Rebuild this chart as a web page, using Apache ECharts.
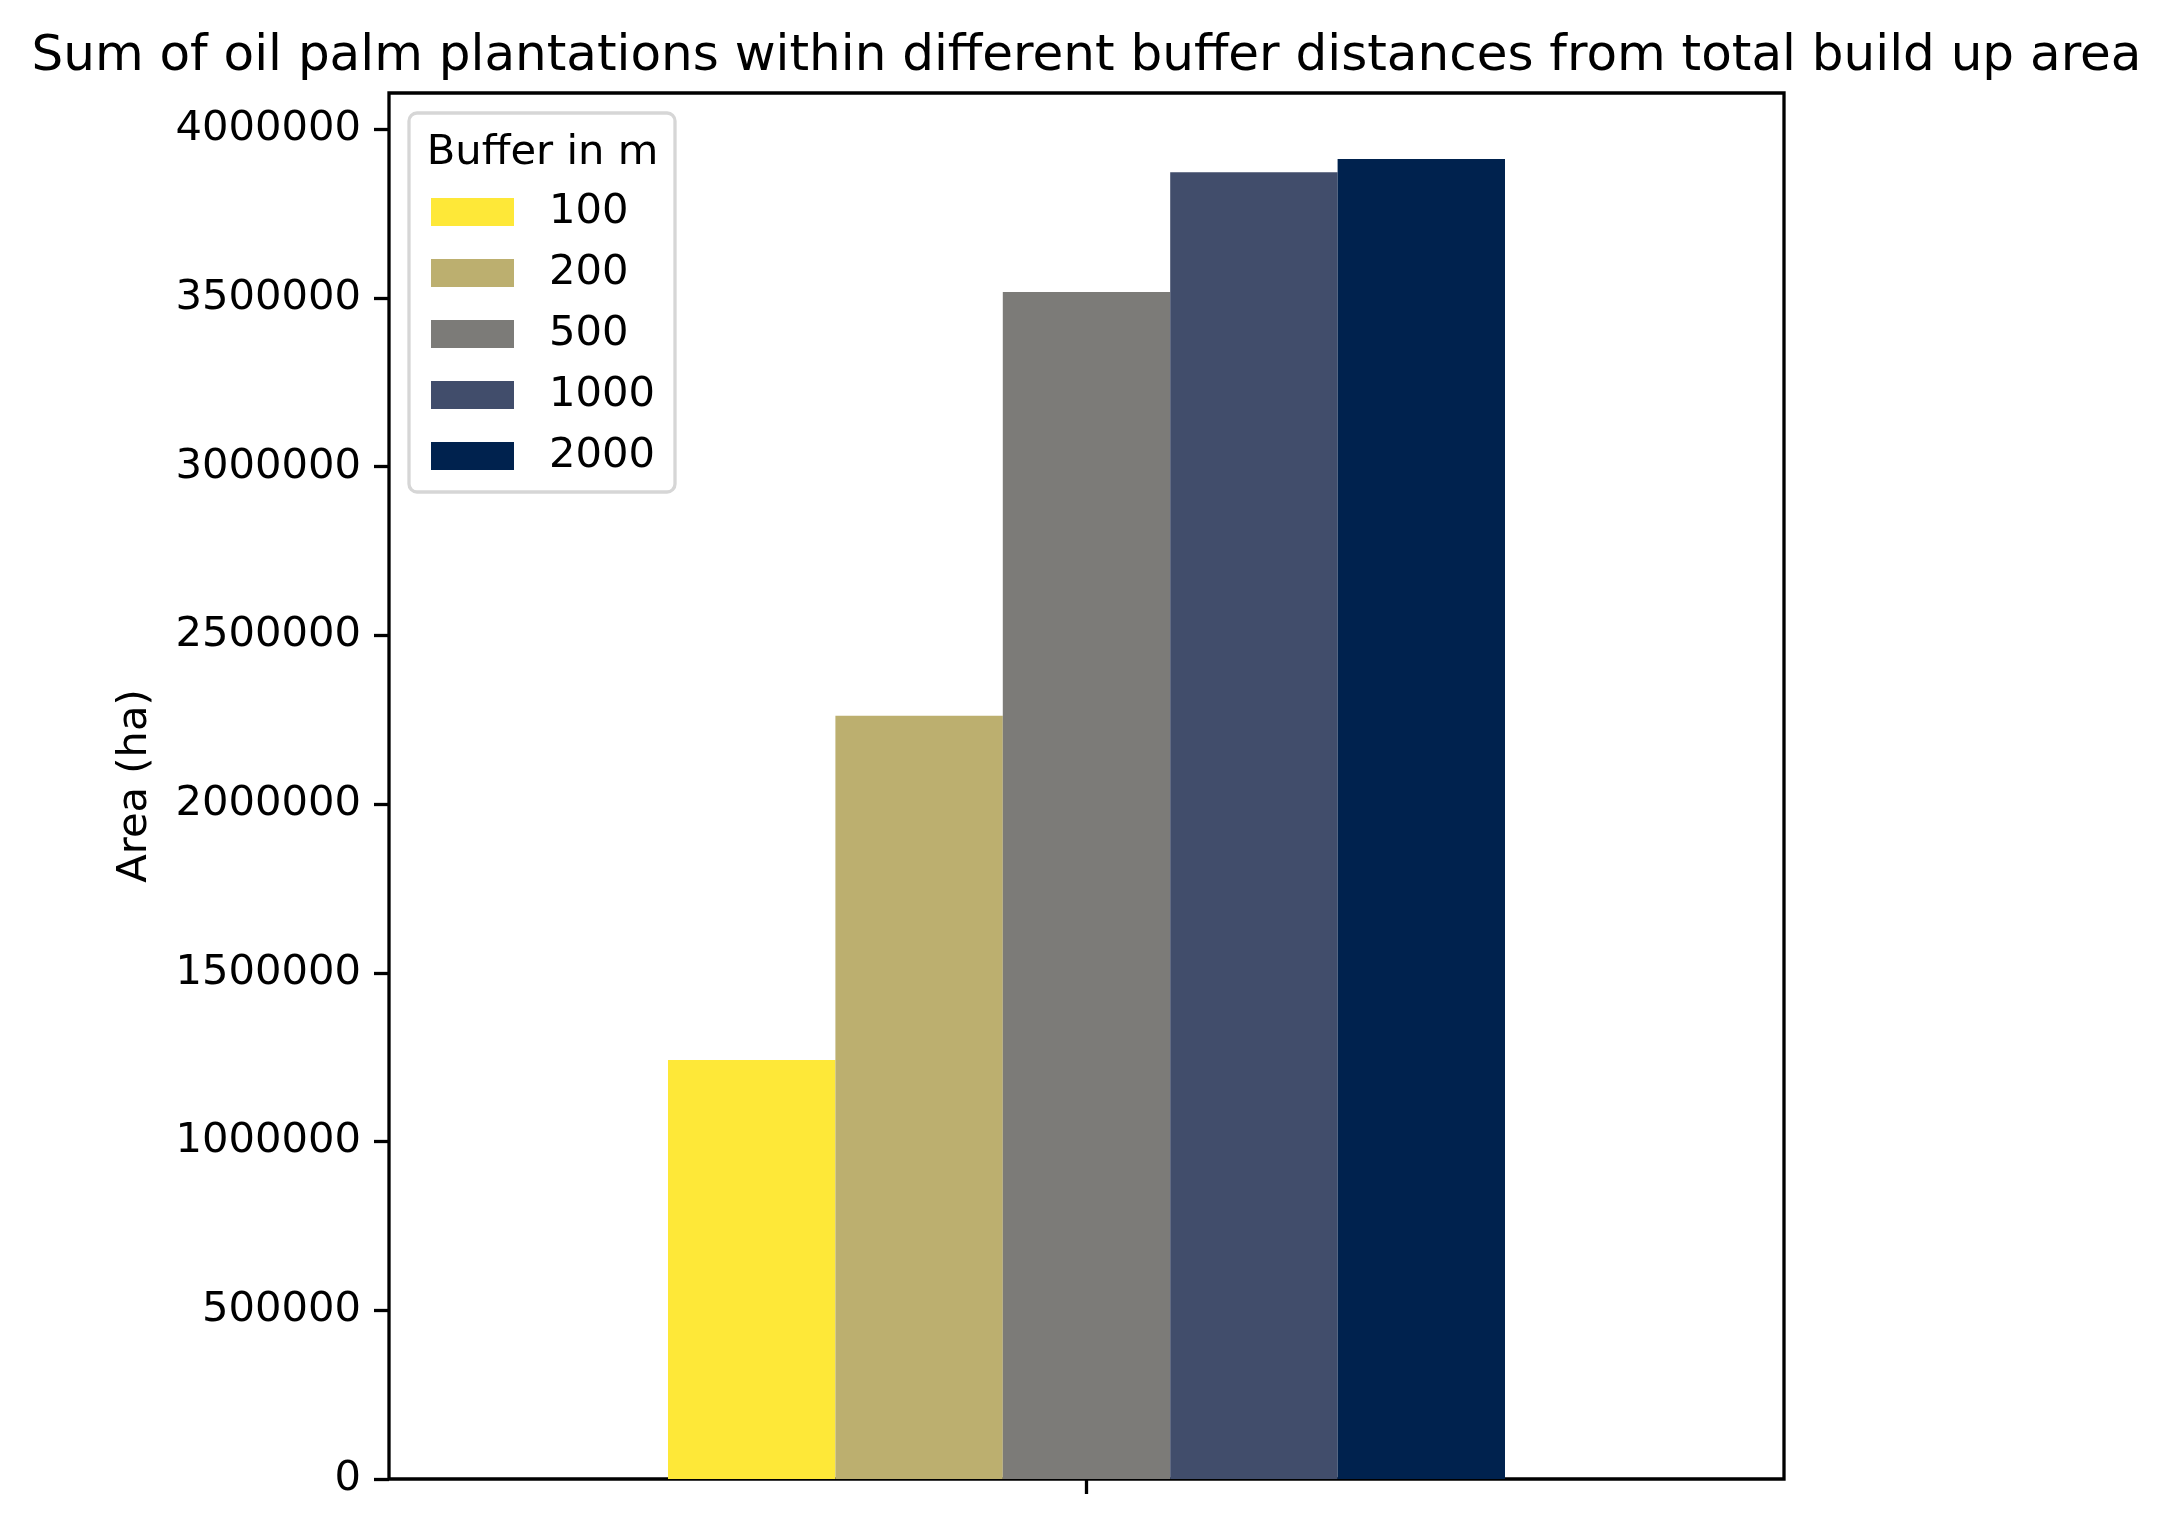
<!DOCTYPE html>
<html>
<head>
<meta charset="utf-8">
<title>Oil palm buffer areas</title>
<script src="https://cdn.jsdelivr.net/npm/echarts@6/dist/echarts.min.js"></script>
<style>
  html, body { margin: 0; padding: 0; background: #fff; }
</style>
</head>
<body>
	<div id="main" style="width: 2173px; height: 1533px;"></div>
	<script type="text/javascript">
		// data
		var categories = [''];
		var buffers = ['100', '200', '500', '1000', '2000'];
		var areas = [1242000, 2262000, 3518000, 3873000, 3912000];
		var colors = ['#fee838', '#bcaf6f', '#7c7b78', '#414d6b', '#00224e'];
		var yTicks = [0, 500000, 1000000, 1500000, 2000000, 2500000, 3000000, 3500000, 4000000];
		var yMax = 4107600;

		var font = 'DejaVu Sans';
		var myChart = echarts.init(document.getElementById('main'));

		var series = [];
		for (var i = 0; i < buffers.length; i++) {
			series.push({
				name: buffers[i],
				type: 'bar',
				data: [areas[i]],
				barGap: '0%',
				barCategoryGap: '40%',
				itemStyle: { color: colors[i] },
				emphasis: { disabled: true }
			});
		}

		var option = {
			animation: false,
			backgroundColor: '#fff',
			textStyle: { fontFamily: font },
			title: {
				text: 'Sum of oil palm plantations within different buffer distances from total build up area',
				left: 'center',
				top: 27,
				textStyle: { fontFamily: font, fontSize: 50, fontWeight: 'normal', color: '#000' }
			},
			grid: {
				left: 389, right: 389, top: 93, bottom: 54,
				show: true, borderColor: '#000', borderWidth: 3.3,
				backgroundColor: 'transparent'
			},
			legend: {
				orient: 'vertical',
				left: 409, top: 113,
				data: buffers,
				icon: 'rect',
				itemWidth: 83, itemHeight: 28,
				itemGap: 19,
				padding: [78, 20, 15, 22],
				borderColor: '#d6d6d6', borderWidth: 3.3, borderRadius: 8,
				backgroundColor: 'rgba(255,255,255,0.8)',
				textStyle: { fontFamily: font, fontSize: 41.67, color: '#000', padding: [0, 0, 0, 30] }
			},
			xAxis: {
				type: 'category',
				data: categories,
				axisLine: { show: false },
				axisTick: { show: true, alignWithLabel: true, length: 15, lineStyle: { color: '#000', width: 3.3 } },
				axisLabel: { show: false },
				splitLine: { show: false }
			},
			yAxis: {
				type: 'value',
				min: 0, max: yMax,
				name: 'Area (ha)',
				nameLocation: 'middle',
				nameGap: 233,
				nameTextStyle: { fontFamily: font, fontSize: 41.67, color: '#000' },
				axisLine: { show: false },
				axisTick: { show: true, length: 15, customValues: yTicks, lineStyle: { color: '#000', width: 3.3 } },
				axisLabel: {
					customValues: yTicks,
					margin: 28,
					fontFamily: font, fontSize: 41.67, color: '#000',
					formatter: function (v) { return String(v); }
				},
				splitLine: { show: false }
			},
			// legend title text, placed inside the legend box
			graphic: [{
				type: 'text',
				x: 542.5, y: 153,
				style: {
					text: 'Buffer in m',
					font: '41.67px "DejaVu Sans"',
					fill: '#000',
					textAlign: 'center',
					textVerticalAlign: 'middle'
				},
				z: 100
			}],
			series: series
		};

		myChart.setOption(option);
	</script>
</body>
</html>
